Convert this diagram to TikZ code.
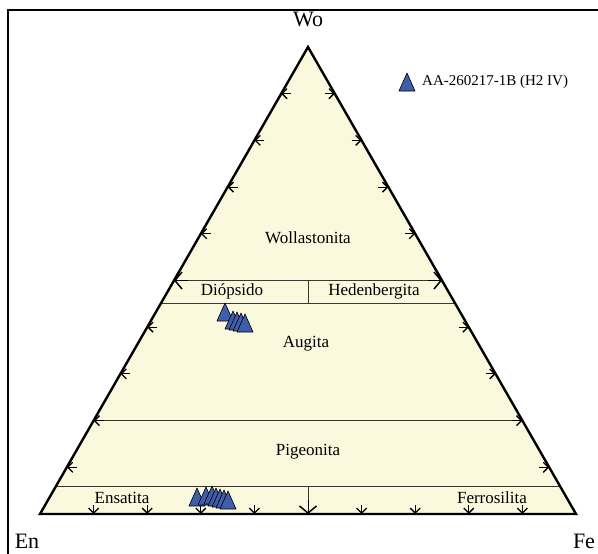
\documentclass[tikz,border=0pt]{standalone}
\usepackage{fontspec}
\setmainfont{Liberation Serif}
\usepackage{tikz}
\usetikzlibrary{calc,positioning,arrows.meta}
\definecolor{cream}{RGB}{250,248,221}
\definecolor{markblue}{RGB}{63,93,170}
\definecolor{divgray}{RGB}{55,55,55}
\tikzset{
	fieldlabel/.style={font=\fontsize{17}{19}\selectfont,inner sep=0pt},
	cornerlabel/.style={font=\fontsize{22}{25}\selectfont,inner sep=0pt},
	legendlabel/.style={font=\fontsize{15}{17}\selectfont,inner sep=0pt,anchor=west},
	divline/.style={draw=divgray,line width=.9pt},
	smalltick/.style={-{Straight Barb[length=5pt,width=10pt,line width=1.3pt]},line width=1.1pt},
	bigtick/.style={-{Straight Barb[length=7pt,width=17pt,line width=1.5pt]},line width=.9pt},
	datamark/.pic={\draw[fill=markblue,draw=black,line width=.6pt,line join=round]
		(-8,9) -- (0,-9) -- (8,9) -- cycle;}
}

\begin{document}
\begin{tikzpicture}[x=1pt,y=-1pt]
	\useasboundingbox (0,0) rectangle (598,554);
	\draw[line width=1.3pt] (8,554) -- (8,10) -- (598,10);
	\coordinate (en) at (40,514);
	\coordinate (fe) at (576,514);
	\coordinate (wo) at (308,47);
	\fill[cream] (en) -- (wo) -- (fe) -- cycle;
	\coordinate (l50) at ($(en)!.5!(wo)$);
	\coordinate (r50) at ($(fe)!.5!(wo)$);
	\coordinate (l45) at ($(en)!.45!(wo)$);
	\coordinate (r45) at ($(fe)!.45!(wo)$);
	\coordinate (l20) at ($(en)!.2!(wo)$);
	\coordinate (r20) at ($(fe)!.2!(wo)$);
	\coordinate (l06) at ($(en)!.06!(wo)$);
	\coordinate (r06) at ($(fe)!.06!(wo)$);
	\coordinate (m50) at ($(l50)!.5!(r50)$);
	\coordinate (m45) at ($(l45)!.5!(r45)$);
	\coordinate (m06) at ($(l06)!.5!(r06)$);
	\coordinate (m00) at ($(en)!.5!(fe)$);
	\path[divline]
	(l50) edge (r50)
	(l45) edge (r45)
	(l20) edge (r20)
	(l06) edge (r06)
	(m50) edge (m45)
	(m06) edge (m00);
	\foreach \f in {0.1,0.2,0.3,0.4,0.6,0.7,0.8,0.9} {
		\draw[smalltick] ($(en)!\f!(wo)+(10,0)$) -- ($(en)!\f!(wo)$);
		\draw[smalltick] ($(fe)!\f!(wo)-(10,0)$) -- ($(fe)!\f!(wo)$);
		\draw[smalltick] ($(en)!\f!(fe)-(0,9)$) -- ($(en)!\f!(fe)$);
	}
	\draw[bigtick] ($(l50)+(14,0)$) -- (l50);
	\draw[bigtick] ($(r50)-(14,0)$) -- (r50);
	\draw[bigtick] ($(m00)-(0,14)$) -- (m00);
	\draw[line width=2.4pt,line join=miter] (en) -- (wo) -- (fe) -- cycle;
	\node[cornerlabel] (wolabel) at (308,19) {Wo};
	\node[cornerlabel] (enlabel) at (27,541) {En};
	\node[cornerlabel] (felabel) at (584,541) {Fe};
	\node[fieldlabel] (wollastonita) at (308,238) {Wollastonita};
	\node[fieldlabel] (diopsido) at (232,291) {Diópsido};
	\node[fieldlabel] (hedenbergita) at (374,291) {Hedenbergita};
	\node[fieldlabel] (augita) at (306,344) {Augita};
	\node[fieldlabel] (pigeonita) at (308,452) {Pigeonita};
	\node[fieldlabel] (ensatita) at (122,498) {Ensatita};
	\node[fieldlabel] (ferrosilita) at (492,498) {Ferrosilita};
	\foreach \n/\x/\y in {1/225/312,2/233/320,3/237/321,4/241/322,5/245/323,
		6/197/497,7/206/496,8/212/495,9/216/497,10/220/498,11/224/499,12/228/500} {
		\coordinate (d\n) at (\x,\y);
		\pic at (d\n) {datamark};
	}
	\coordinate (leg) at (407,82);
	\pic at (leg) {datamark};
	\node[legendlabel,right=15pt of leg] (legtext) {AA-260217-1B (H2 IV)};
\end{tikzpicture}
\end{document}
